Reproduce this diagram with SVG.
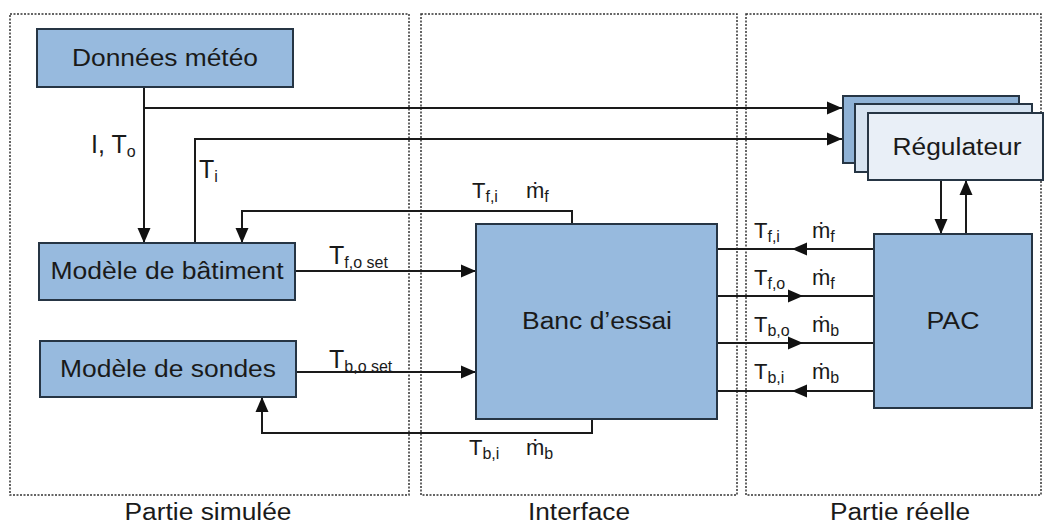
<svg xmlns="http://www.w3.org/2000/svg" width="1045" height="524" viewBox="0 0 1045 524">
<style>
text{font-family:"Liberation Sans",Arial,sans-serif;fill:#1a1a1a}
.panel{fill:none;stroke:#333;stroke-width:1.5;stroke-dasharray:2 1.5}
.node{fill:#97bade;stroke:#263544;stroke-width:2}
.nl{font-size:23px;text-anchor:middle}
.pl{font-size:23px;text-anchor:middle}
.ln{fill:none;stroke:#1a1a1a;stroke-width:2}
.lab{font-size:22px}
.big{font-size:25px}
.s{font-size:16px}
</style>
<defs>
<marker id="ah" markerUnits="userSpaceOnUse" markerWidth="16" markerHeight="14" refX="15" refY="7" orient="auto">
<path d="M0,0.5 L15,7 L0,13.5 z" fill="#111"/>
</marker>
</defs>
<g id="panels">
<rect class="panel" x="10" y="14" width="399" height="481"/>
<rect class="panel" x="421" y="14" width="316" height="481"/>
<rect class="panel" x="746" y="14" width="295" height="481"/>
<text class="pl" x="208" y="520" textLength="167" lengthAdjust="spacingAndGlyphs">Partie simulée</text>
<text class="pl" x="579" y="520" textLength="102" lengthAdjust="spacingAndGlyphs">Interface</text>
<text class="pl" x="900" y="520" textLength="140" lengthAdjust="spacingAndGlyphs">Partie réelle</text>
</g>
<g id="connectors">
<path class="ln" d="M144,87 V243" marker-end="url(#ah)"/>
<path class="ln" d="M144,108 H842" marker-end="url(#ah)"/>
<path class="ln" d="M195,243 V139 H842" marker-end="url(#ah)"/>
<path class="ln" d="M572,224 V211 H242 V243" marker-end="url(#ah)"/>
<path class="ln" d="M295,271 H476" marker-end="url(#ah)"/>
<path class="ln" d="M296,372 H476" marker-end="url(#ah)"/>
<path class="ln" d="M592,419 V433 H262 V397" marker-end="url(#ah)"/>
<path class="ln" d="M874,249 H792" marker-end="url(#ah)"/>
<path class="ln" d="M792,249 H717"/>
<path class="ln" d="M717,296 H803" marker-end="url(#ah)"/>
<path class="ln" d="M803,296 H874"/>
<path class="ln" d="M717,343 H803" marker-end="url(#ah)"/>
<path class="ln" d="M803,343 H874"/>
<path class="ln" d="M874,391 H792" marker-end="url(#ah)"/>
<path class="ln" d="M792,391 H717"/>
<path class="ln" d="M941,180 V234" marker-end="url(#ah)"/>
<path class="ln" d="M966,234 V180" marker-end="url(#ah)"/>
<text class="big" x="91" y="153">I, T<tspan class="s" dy="4">o</tspan></text>
<text class="big" x="199" y="178">T<tspan class="s" dy="4">i</tspan></text>
<text class="lab" x="472" y="198">T<tspan class="s" dy="4">f,i</tspan></text>
<text class="lab" x="526" y="198">ṁ<tspan class="s" dy="4">f</tspan></text>
<text class="big" x="329" y="264">T<tspan class="s" dy="4">f,o set</tspan></text>
<text class="big" x="329" y="368">T<tspan class="s" dy="4">b,o set</tspan></text>
<text class="lab" x="469" y="455">T<tspan class="s" dy="4">b,i</tspan></text>
<text class="lab" x="526" y="455">ṁ<tspan class="s" dy="4">b</tspan></text>
<text class="lab" x="754" y="238">T<tspan class="s" dy="4">f,i</tspan></text>
<text class="lab" x="812" y="238">ṁ<tspan class="s" dy="4">f</tspan></text>
<text class="lab" x="754" y="285">T<tspan class="s" dy="4">f,o</tspan></text>
<text class="lab" x="812" y="285">ṁ<tspan class="s" dy="4">f</tspan></text>
<text class="lab" x="754" y="332">T<tspan class="s" dy="4">b,o</tspan></text>
<text class="lab" x="812" y="332">ṁ<tspan class="s" dy="4">b</tspan></text>
<text class="lab" x="754" y="379">T<tspan class="s" dy="4">b,i</tspan></text>
<text class="lab" x="812" y="379">ṁ<tspan class="s" dy="4">b</tspan></text>
</g>
<g id="donnees-meteo">
<rect class="node" x="37" y="29" width="256" height="58"/>
<text class="nl" x="165" y="66" textLength="186" lengthAdjust="spacingAndGlyphs">Données météo</text>
</g>
<g id="modele-batiment">
<rect class="node" x="39" y="243" width="256" height="57"/>
<text class="nl" x="167" y="279" textLength="233" lengthAdjust="spacingAndGlyphs">Modèle de bâtiment</text>
</g>
<g id="modele-sondes">
<rect class="node" x="40" y="341" width="256" height="56"/>
<text class="nl" x="168" y="377" textLength="216" lengthAdjust="spacingAndGlyphs">Modèle de sondes</text>
</g>
<g id="banc-essai">
<rect class="node" x="476" y="224" width="241" height="195"/>
<text class="nl" x="597" y="329" textLength="150" lengthAdjust="spacingAndGlyphs">Banc d’essai</text>
</g>
<g id="pac">
<rect class="node" x="874" y="234" width="158" height="174"/>
<text class="nl" x="953" y="329" textLength="53" lengthAdjust="spacingAndGlyphs">PAC</text>
</g>
<g id="regulateur">
<rect x="843" y="96" width="176" height="67" fill="#8fb2d6" stroke="#263544" stroke-width="2"/>
<rect x="855" y="104" width="177" height="68" fill="#d6e3f1" stroke="#263544" stroke-width="2"/>
<rect x="868" y="113" width="175" height="67" fill="#e9eff7" stroke="#263544" stroke-width="2"/>
<text class="nl" x="957" y="155" textLength="129" lengthAdjust="spacingAndGlyphs">Régulateur</text>
</g>
</svg>
